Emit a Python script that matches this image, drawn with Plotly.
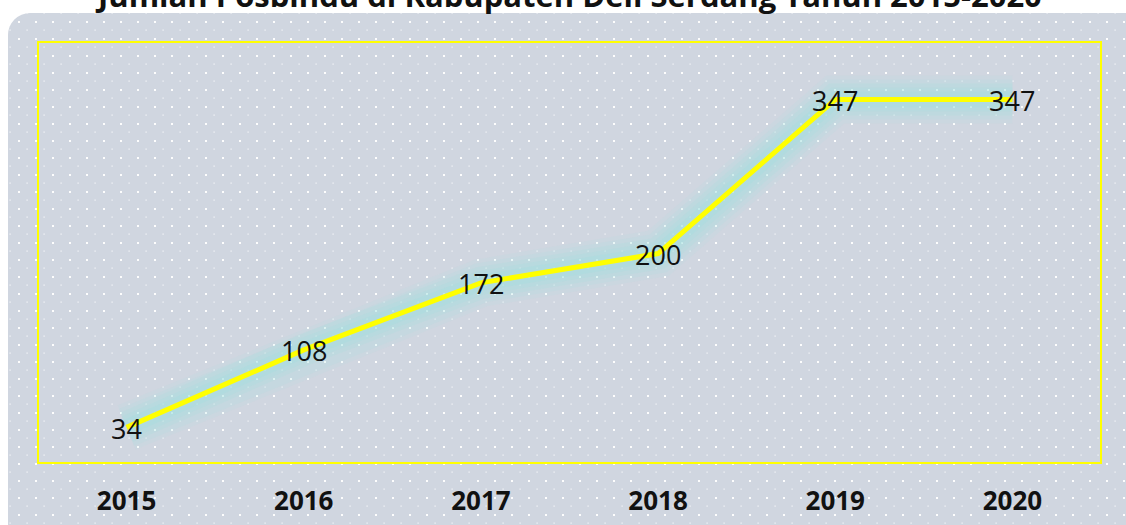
import base64
import plotly.graph_objects as go

years = ["2015", "2016", "2017", "2018", "2019", "2020"]
counts = [34, 108, 172, 200, 347, 347]
title_text = "Jumlah Posbindu di Kabupaten Deli Serdang Tahun 2015-2020"

W, H = 1126, 525
ML, MR, MT, MB = 38, 25, 42, 62
PW, PH = W - ML - MR, H - MT - MB

svg = f'''<svg xmlns="http://www.w3.org/2000/svg" width="{W}" height="{H}" viewBox="0 0 {W} {H}">
<defs><pattern id="p" x="0" y="0" width="17" height="17" patternUnits="userSpaceOnUse">
<rect x="1" y="4" width="2" height="2" fill="#ffffff" fill-opacity="0.95"/>
<rect x="9.5" y="12.5" width="1.2" height="1.2" fill="#ffffff" fill-opacity="0.8"/>
</pattern></defs>
<rect x="8" y="13" width="1140" height="560" rx="22" ry="22" fill="#d0d6e0"/>
<rect x="8" y="13" width="1140" height="560" rx="22" ry="22" fill="url(#p)"/>
</svg>'''
src = "data:image/svg+xml;base64," + base64.b64encode(svg.encode()).decode()

fig = go.Figure()

# soft glow around the line
for w, op in [(48, 0.10), (40, 0.13), (32, 0.17), (24, 0.22), (16, 0.28)]:
    fig.add_trace(go.Scatter(
        x=years, y=counts, mode="lines",
        line=dict(color=f"rgba(162,224,222,{op})", width=w),
        hoverinfo="skip", showlegend=False,
    ))

fig.add_trace(go.Scatter(
    x=years, y=counts, mode="lines",
    line=dict(color="#ffff00", width=5),
    showlegend=False, hoverinfo="x+y",
))

annotations = [dict(
    x=i, y=v, xref="x", yref="y", text=str(v), showarrow=False,
    xanchor="center", yanchor="middle", yshift=-1,
    font=dict(family="Open Sans", size=27, color="#111111"),
) for i, v in enumerate(counts)]

annotations.append(dict(
    text=f"<b>{title_text}</b>", xref="paper", yref="paper",
    x=(568 - ML) / PW, y=1 + (MT - 18) / PH, xanchor="center", yanchor="bottom",
    showarrow=False, font=dict(family="Open Sans", size=31, color="#111111"),
))

fig.update_layout(
    width=W, height=H,
    margin=dict(l=ML, r=MR, t=MT, b=MB, autoexpand=False),
    paper_bgcolor="white", plot_bgcolor="rgba(0,0,0,0)",
    images=[dict(
        source=src, xref="paper", yref="paper",
        x=-ML / PW, y=1 + MT / PH, sizex=W / PW, sizey=H / PH,
        xanchor="left", yanchor="top", sizing="stretch", layer="below",
    )],
    xaxis=dict(
        type="category", range=[-0.5, 5.5], showgrid=False, zeroline=False,
        showline=False, ticks="", ticklabelstandoff=20, automargin=False,
        tickfont=dict(family="Open Sans", size=26, color="#111111", weight="bold"),
        fixedrange=True,
    ),
    yaxis=dict(
        range=[0, 402], visible=False, showgrid=False, zeroline=False,
        automargin=False, fixedrange=True,
    ),
    shapes=[dict(
        type="rect", xref="paper", yref="paper", x0=0, x1=1, y0=0, y1=1,
        line=dict(color="#ffff00", width=2), layer="above",
    )],
    annotations=annotations,
)

fig.write_html("out.html", config={"displayModeBar": False},
               post_script="document.body.style.margin='0px';")
